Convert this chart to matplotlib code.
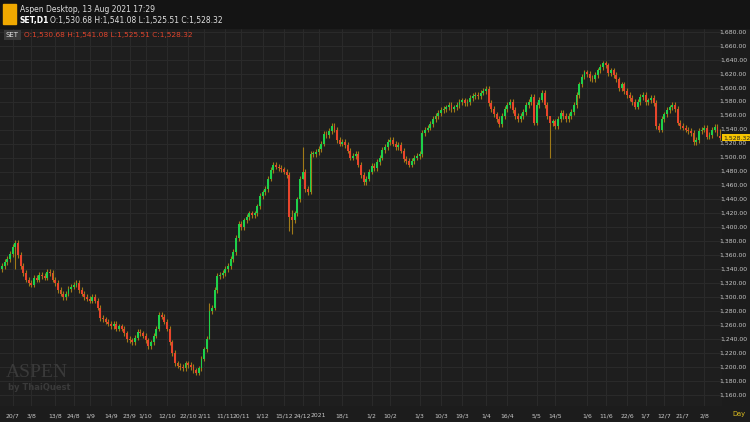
import matplotlib
matplotlib.use("Agg")
import matplotlib.pyplot as plt
from matplotlib.patches import Rectangle

# daily closes of SET index (about 15/7/2020 .. 13/8/2021)
closes = [
    1345, 1350, 1355, 1362, 1372, 1378, 1360, 1345, 1335, 1325,
    1320, 1318, 1328, 1325, 1332, 1330, 1328, 1336, 1335, 1325,
    1320, 1310, 1305, 1300, 1305, 1312, 1315, 1318, 1320, 1310,
    1305, 1300, 1298, 1295, 1300, 1295, 1285, 1270, 1268, 1265,
    1262, 1258, 1262, 1255, 1258, 1255, 1248, 1240, 1238, 1235,
    1242, 1250, 1248, 1245, 1238, 1230, 1235, 1245, 1255, 1275,
    1272, 1265, 1255, 1235, 1220, 1205, 1202, 1200, 1198, 1205,
    1203, 1200, 1195, 1192, 1198, 1212, 1225, 1240, 1280, 1285,
    1310, 1330, 1332, 1335, 1340, 1345, 1355, 1365, 1385, 1405,
    1400, 1410, 1415, 1420, 1418, 1420, 1430, 1445, 1450, 1455,
    1470, 1482, 1490, 1487, 1485, 1483, 1480, 1475, 1415, 1410,
    1420, 1440, 1470, 1480, 1455, 1450, 1505, 1505, 1508, 1512,
    1520, 1534, 1532, 1538, 1545, 1540, 1525, 1520, 1522, 1518,
    1510, 1500, 1502, 1505, 1490, 1475, 1465, 1470, 1480, 1488,
    1485, 1494, 1500, 1511, 1515, 1522, 1525, 1520, 1515, 1518,
    1510, 1498, 1495, 1490, 1495, 1500, 1502, 1505, 1535, 1540,
    1543, 1548, 1555, 1560, 1564, 1568, 1570, 1572, 1575, 1570,
    1572, 1575, 1580, 1582, 1578, 1580, 1585, 1588, 1590, 1588,
    1593, 1595, 1598, 1578, 1570, 1562, 1555, 1548, 1560, 1570,
    1575, 1580, 1568, 1560, 1555, 1560, 1565, 1575, 1580, 1587,
    1550, 1575, 1583, 1593, 1575, 1560, 1549, 1552, 1545, 1555,
    1564, 1560, 1555, 1560, 1565, 1575, 1590, 1605, 1616, 1622,
    1620, 1614, 1612, 1618, 1625, 1630, 1635, 1632, 1621, 1625,
    1618, 1612, 1600, 1605, 1595, 1590, 1585, 1580, 1573, 1580,
    1587, 1590, 1580, 1582, 1585, 1578, 1545, 1540, 1555, 1562,
    1568, 1572, 1575, 1570, 1550, 1545, 1543, 1540, 1538, 1535,
    1522, 1525, 1538, 1540, 1542, 1530, 1532, 1540, 1544, 1535, 1528.32,
]
first_open = 1340
# a few long wicks seen on the chart: index -> (high, low)
long_wicks = {5: (1382, 1340), 108: (1480, 1395), 109: (1425, 1390), 113: (1515, 1470),
              116: (1510, 1448), 206: (1560, 1500), 78: (1292, 1240), 270: (1541.08, 1525.51)}

tick_idx = [4, 11, 20, 27, 33, 41, 48, 54, 62, 70, 76, 84, 90, 98, 106, 113, 119, 128,
            139, 146, 157, 165, 173, 182, 190, 201, 208, 220, 227, 235, 242, 249, 256, 264]
tick_lab = ["20/7", "3/8", "13/8", "24/8", "1/9", "14/9", "23/9", "1/10", "12/10", "22/10",
            "2/11", "11/11", "20/11", "1/12", "15/12", "24/12", "2021", "18/1", "1/2", "10/2",
            "1/3", "10/3", "19/3", "1/4", "16/4", "5/5", "14/5", "1/6", "11/6", "22/6",
            "1/7", "12/7", "21/7", "2/8"]
y_ticks = list(range(1160, 1681, 20))

up_col = "#1ed14b"
dn_col = "#e8452c"
wick_col = "#a07a18"
FONT = ["Liberation Sans Narrow", "DejaVu Sans"]

fig = plt.figure(figsize=(7.5, 4.22), dpi=100, facecolor="#1c1c1c")
ax = fig.add_axes([0, 16 / 422, 722 / 750, 378 / 422])
ax.set_facecolor("#1e1e1e")

opens = [first_open] + closes[:-1]
opens[-1] = 1530.68
for i, (o, c) in enumerate(zip(opens, closes)):
    hi = max(o, c) + 4
    lo = min(o, c) - 4
    if i in long_wicks:
        hi, lo = long_wicks[i]
    col = up_col if c >= o else dn_col
    ax.vlines(i, lo, hi, color=wick_col, lw=0.8, zorder=2)
    h = max(abs(c - o), 1.2)
    ax.add_patch(Rectangle((i - 0.36, min(o, c)), 0.72, h, color=col, lw=0, zorder=3))

ax.set_xlim(-0.75, 270.7)
ax.set_ylim(1144, 1685.7)
ax.set_xticks(tick_idx)
ax.set_yticks(y_ticks)
ax.grid(True, color="#2b2b2b", lw=0.7)
ax.tick_params(length=0, labelbottom=False, labelleft=False)
for s in ax.spines.values():
    s.set_visible(False)

# y labels on the right
for v in y_ticks:
    fig.text(747 / 750, ax.transData.transform((0, v))[1] / fig.bbox.height, f"{v:,}.00",
             color="#c8c8c8", fontsize=4.4, va="center", ha="right", family=FONT)
ax.text(271.2, closes[-1], f"{closes[-1]:,.2f}", color="#222222", fontsize=4.4, va="center",
        ha="left", clip_on=False, family=FONT,
        bbox=dict(boxstyle="square,pad=0.15", fc="#f5c400", ec="none"))

# x labels along the bottom
for i, lab in zip(tick_idx, tick_lab):
    ax.text(i, 1144 - 14, lab, color="#c8c8c8", fontsize=4.4, va="center", ha="center",
            clip_on=False, family=FONT)
fig.text(745 / 750, 8 / 422, "Day", color="#e0c020", fontsize=4.8, ha="right", va="center",
         family=FONT)

# header
fig.patches.append(Rectangle((0, 394 / 422), 1, 28 / 422, transform=fig.transFigure,
                             color="#141414", zorder=0))
fig.patches.append(Rectangle((3 / 750, 398 / 422), 13 / 750, 20 / 422, transform=fig.transFigure,
                             color="#f0a800", zorder=1))
fig.text(20 / 750, 413 / 422, "Aspen Desktop, 13 Aug 2021 17:29", color="#e0e0e0", fontsize=5.5,
         va="center", family=FONT)
fig.text(20 / 750, 401 / 422, "SET,D1", color="#ffffff", fontsize=5.5, fontweight="bold",
         va="center", family=FONT)
fig.text(50 / 750, 401 / 422, "O:1,530.68 H:1,541.08 L:1,525.51 C:1,528.32", color="#e0e0e0",
         fontsize=5.5, va="center", family=FONT)
fig.text(6 / 750, 387 / 422, "SET", color="#dddddd", fontsize=5, va="center",
         family=FONT, bbox=dict(boxstyle="square,pad=0.25", fc="#3a3a3a", ec="none"))
fig.text(24 / 750, 387 / 422, "O:1,530.68 H:1,541.08 L:1,525.51 C:1,528.32", color="#e0442c",
         fontsize=5.3, va="center", family=FONT)

# watermark
fig.text(6 / 750, 45 / 422, "ASPEN", color="#3a3a3a", fontsize=14, family="Liberation Serif")
fig.text(8 / 750, 32 / 422, "by ThaiQuest", color="#3a3a3a", fontsize=6, fontweight="bold")

fig.savefig("out.png", dpi=100, facecolor=fig.get_facecolor())
